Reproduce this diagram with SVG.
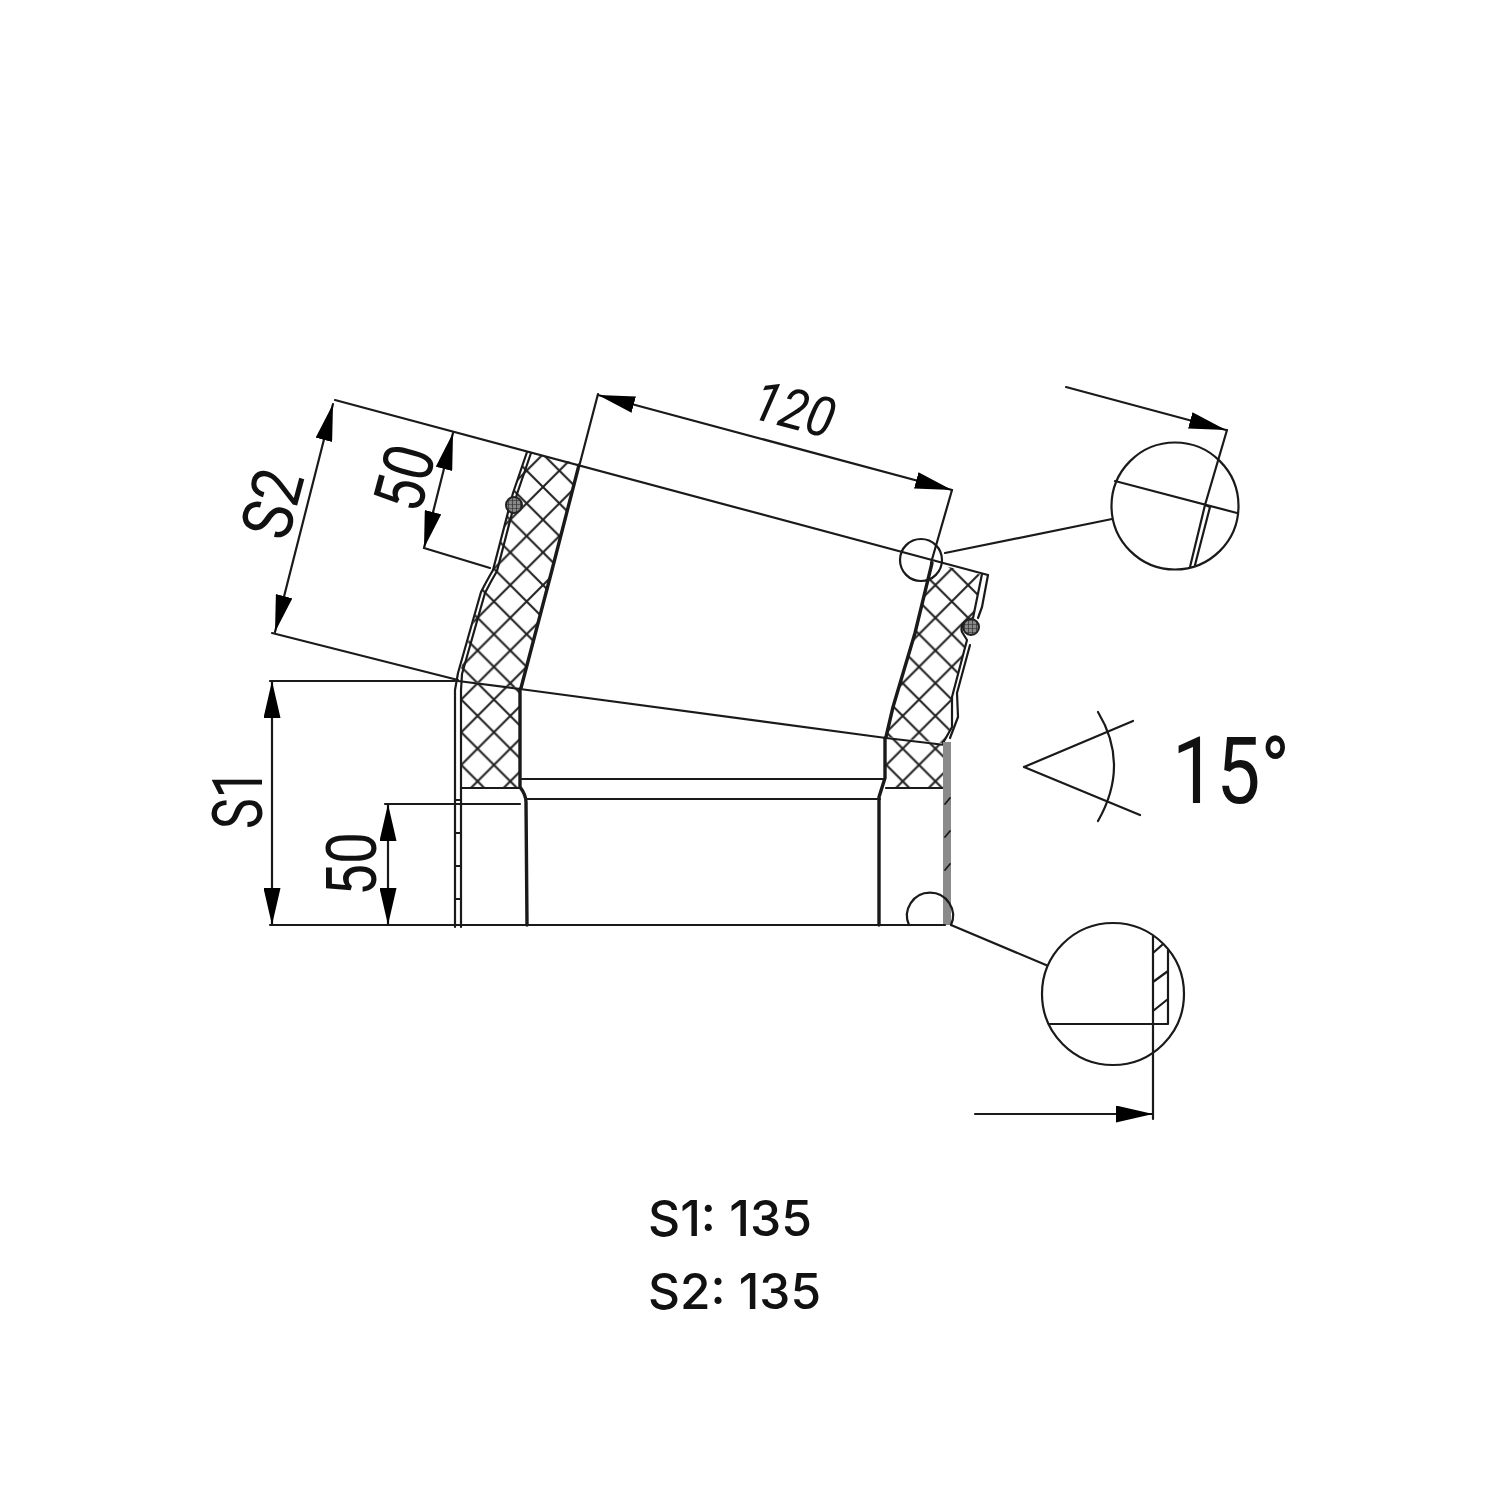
<svg xmlns="http://www.w3.org/2000/svg" width="1500" height="1500" viewBox="0 0 1500 1500">
<style>
.l{fill:none;stroke:#1a1a1a;stroke-width:2.2;stroke-linecap:round;stroke-linejoin:round}
.t{stroke-width:3.4}
.m{stroke-width:1.8}
.d{font-family:"Roboto","Liberation Sans",sans-serif;font-weight:400;fill:#111;text-anchor:middle}
.c{font-family:"Inter","Roboto",sans-serif;font-weight:500;fill:#111;font-size:50px}
.b{fill:url(#b);stroke:#222;stroke-width:2}
</style>
<defs>
<pattern id="x" patternUnits="userSpaceOnUse" width="32.7" height="32.7" x="543" y="487">
<path d="M0 0L32.7 32.7M32.7 0L0 32.7" fill="none" stroke="#222" stroke-width="2.1"/>
</pattern>
<pattern id="b" patternUnits="userSpaceOnUse" width="4" height="4"><rect width="4" height="4" fill="#888"/><path d="M0 0H4M0 0V4" stroke="#222" stroke-width="1.2"/></pattern>
<marker id="ah" viewBox="0 0 37 17" refX="37" refY="8.5" markerWidth="37" markerHeight="17" markerUnits="userSpaceOnUse" orient="auto-start-reverse"><path d="M0 0L37 8.5L0 17Z" fill="#000"/></marker>
</defs>
<rect width="1500" height="1500" fill="#fff"/>
<g id="elbow">
<path fill="url(#x)" d="M527 452L580 464L520 688L458 680L482 590L493 570L513 493Z"/>
<path fill="url(#x)" d="M932 563L982 575L973 618L962 627L967 640L952 697L952 727L943 743L886 737L893 707L915 633Z"/>
<path fill="url(#x)" d="M461 681L520 689V788H461Z"/>
<path fill="url(#x)" d="M885 738L945 745V788H885Z"/>
<path class="l t" d="M579 465L552 570L521 688"/>
<path class="l t" d="M932 563L915 633L893 707L886 737"/>
<path class="l" d="M527 452L513 493L493 570Q486 582 481 592L458 673L455 690V927"/>
<path class="l" d="M531 453L517 494L497 571Q490 583 485 593L462 674L461 690V927"/>
<path class="l" d="M982 574L973 618Q959 622 962 632L967 640L952 697V727L943 743"/>
<path class="l" d="M988 575L982 607L978 618M970 645L957 693L958 717L950 738"/>
<path class="l t" d="M520 689V787Q526 795 526 802L527 925"/>
<path class="l t" d="M885 738V778L879 797V925"/>
<path class="l" d="M461 788H520M886 788H945M522 779H884M526 799H880"/>
<path class="l" d="M458 681L520 689L886 738L920 742L945 745"/>
<path class="l m" d="M456 800H461M456 833H461M456 866H461M456 899H461"/>
<rect x="943" y="742" width="8" height="183" fill="#8a8a8a"/>
<path class="l m" d="M945 804L950 798M945 837L950 831M945 870L950 864"/>
<path class="l" d="M270 925H945"/>
<circle class="b" cx="514" cy="505" r="8"/>
<circle class="b" cx="971" cy="627" r="8"/>
</g>
<g id="connectors">
<path class="l" d="M335 400L988 575"/>
<path class="l" d="M598 394L580 463M952 490L931 563"/>
<path class="l" d="M598 395L952 490" marker-start="url(#ah)" marker-end="url(#ah)"/>
<path class="l" d="M333 404L275 632" marker-start="url(#ah)" marker-end="url(#ah)"/>
<path class="l" d="M453 433L424 548" marker-start="url(#ah)" marker-end="url(#ah)"/>
<path class="l" d="M272 633L458 680M424 548L490 568"/>
<path class="l" d="M270 681H455M385 804H520"/>
<path class="l" d="M272 681V925" marker-start="url(#ah)" marker-end="url(#ah)"/>
<path class="l" d="M388 804V925" marker-start="url(#ah)" marker-end="url(#ah)"/>
<path class="l" d="M945 553L1112 519M951 925L1046 965"/>
<path class="l" d="M1066 387L1226 430" marker-end="url(#ah)"/>
<path class="l" d="M975 1114H1153" marker-end="url(#ah)"/>
<path class="l" d="M1024 767L1133 721M1024 767L1140 815M1098 712Q1130 765 1098 821"/>
</g>
<g id="detail-circles">
<circle class="l" cx="921" cy="560" r="21"/>
<path class="l" d="M909 925A23 23 0 1 1 951 925"/>
<circle class="l" cx="1175" cy="506" r="63.5"/>
<path class="l" d="M1115 481L1237 513M1227 430L1205 505L1190 567M1210 507L1195 565M1205 505L1210 507"/>
<circle class="l" cx="1113" cy="994" r="71"/>
<path class="l" d="M1153 936V1119M1168 950V1024M1049 1024H1168M1153 953L1162 945M1153 982L1168 971M1153 1011L1168 999"/>
</g>
<g id="labels">
<text class="d" transform="translate(262 799) rotate(-90)" font-size="70" textLength="60" lengthAdjust="spacingAndGlyphs">S1</text>
<text class="d" transform="translate(376 864) rotate(-90)" font-size="70" textLength="64" lengthAdjust="spacingAndGlyphs">50</text>
<text class="d" transform="translate(296 510) rotate(-75)" font-size="70" textLength="68" lengthAdjust="spacingAndGlyphs">S2</text>
<text class="d" transform="translate(428 484) rotate(-75)" font-size="70" textLength="64" lengthAdjust="spacingAndGlyphs">50</text>
<text class="d" transform="translate(789 428) rotate(15)" font-size="56" font-style="italic" font-weight="500" textLength="82" lengthAdjust="spacingAndGlyphs">120</text>
<text class="d" x="1231" y="803" font-size="92" font-weight="500" textLength="118" lengthAdjust="spacingAndGlyphs">15°</text>
<text class="c" x="648" y="1236" textLength="164" lengthAdjust="spacingAndGlyphs">S1: 135</text>
<text class="c" x="648" y="1309" textLength="173" lengthAdjust="spacingAndGlyphs">S2: 135</text>
</g>
</svg>
